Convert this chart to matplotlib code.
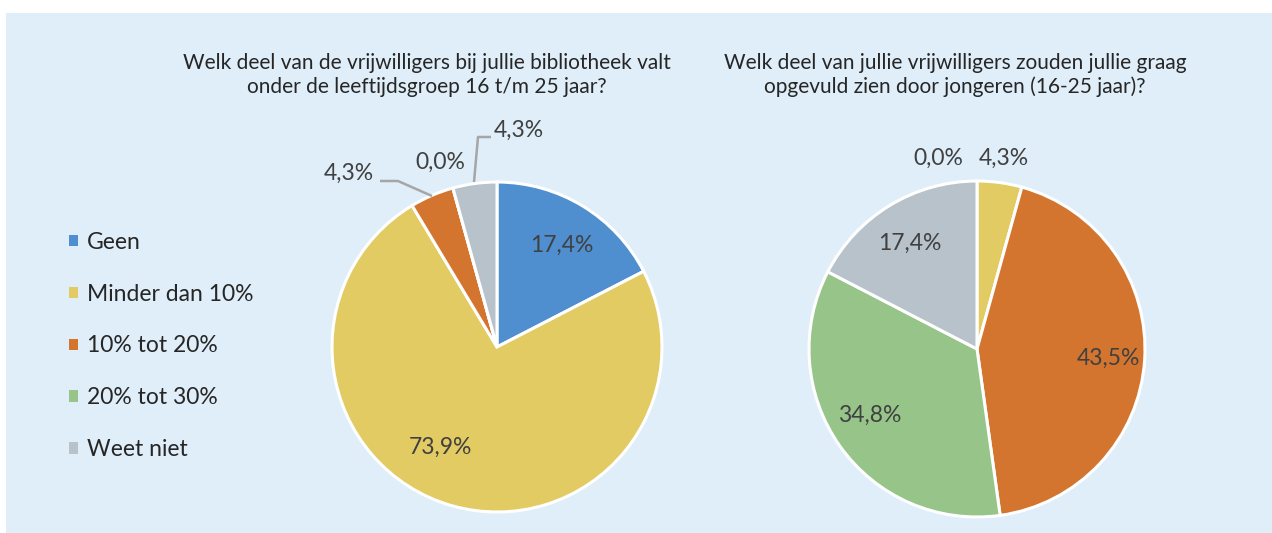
import numpy as np
import matplotlib.pyplot as plt
from matplotlib.patches import Rectangle, Patch

plt.rcParams["font.family"] = ["Lato", "DejaVu Sans"]

categories = ["Geen", "Minder dan 10%", "10% tot 20%", "20% tot 30%", "Weet niet"]
left_values = [17.4, 73.9, 4.3, 0.0, 4.3]
right_values = [0.0, 4.3, 43.5, 34.8, 17.4]
left_title = "Welk deel van de vrijwilligers bij jullie bibliotheek valt\nonder de leeftijdsgroep 16 t/m 25 jaar?"
right_title = "Welk deel van jullie vrijwilligers zouden jullie graag\nopgevuld zien door jongeren (16-25 jaar)?"

colors = ["#4F8FD0", "#E2CB63", "#D4752F", "#96C489", "#B8C2CB"]
BG = "#DFEEF8"
TXT = "#404040"

W, H = 1272, 533
fig = plt.figure(figsize=(W / 100, H / 100), dpi=100, facecolor="white")
fig.patches.append(Rectangle((6 / W, 0), 1 - 6 / W, 1 - 13 / H,
                             transform=fig.transFigure, facecolor=BG,
                             edgecolor="none", zorder=-10))

K = 1.35


def pie_axes(cx, cy, r):
    # axes in pixel terms, one data unit = pie radius
    half = r * K
    ax = fig.add_axes([(cx - half) / W, (H - cy - half) / H, 2 * half / W, 2 * half / H])
    ax.axis("off")
    return ax


def fmt(v):
    return f"{v:.1f}%".replace(".", ",")


def draw_pie(ax, values, label_pos, leaders):
    ax.pie(values, colors=colors, startangle=90, counterclock=False, radius=1,
           wedgeprops=dict(edgecolor="white", linewidth=2.2), normalize=True)
    ax.set_xlim(-K, K)
    ax.set_ylim(-K, K)
    ax.set_aspect("equal")
    for v, (x, y) in zip(values, label_pos):
        ax.text(x, y, fmt(v), ha="center", va="center", fontsize=16.5, color=TXT)
    for pts in leaders:
        xs, ys = zip(*pts)
        ax.plot(xs, ys, color="#A6A6A6", lw=1.8, solid_capstyle="butt", clip_on=False)


# left pie: center (497, 347), radius 165 px
axl = pie_axes(497, 347, 165)
R = 165.0
left_pos = [(65 / R, 102 / R), (-57 / R, -100 / R), (-148 / R, 174 / R),
            (-57 / R, 185 / R), (22 / R, 217 / R)]
left_leaders = [
    [(-65 / R, 151 / R), (-99 / R, 166 / R), (-117 / R, 166 / R)],
    [(-23 / R, 165 / R), (-19 / R, 210 / R), (-6 / R, 210 / R)],
]
draw_pie(axl, left_values, left_pos, left_leaders)

# right pie: center (977, 349), radius 168 px
axr = pie_axes(977, 349, 168)
R = 168.0
right_pos = [(-39 / R, 191 / R), (27 / R, 191 / R), (131 / R, -9 / R),
             (-107 / R, -66 / R), (-67 / R, 106 / R)]
draw_pie(axr, right_values, right_pos, [])

fig.text(427 / W, 1 - 75 / H, left_title, ha="center", va="center",
         fontsize=15, color="#262626", linespacing=1.25)
fig.text(955 / W, 1 - 75 / H, right_title, ha="center", va="center",
         fontsize=15, color="#262626", linespacing=1.25)

handles = [Patch(facecolor=c, edgecolor="none") for c in colors]
fig.legend(handles, categories, loc="center left", bbox_to_anchor=(69 / W, 1 - 346 / H),
           frameon=False, fontsize=16.5, labelcolor="#262626", handlelength=0.4,
           handleheight=0.4, handletextpad=0.4, labelspacing=1.35, borderpad=0,
           borderaxespad=0)

fig.savefig("out.png", dpi=100, facecolor="white")
